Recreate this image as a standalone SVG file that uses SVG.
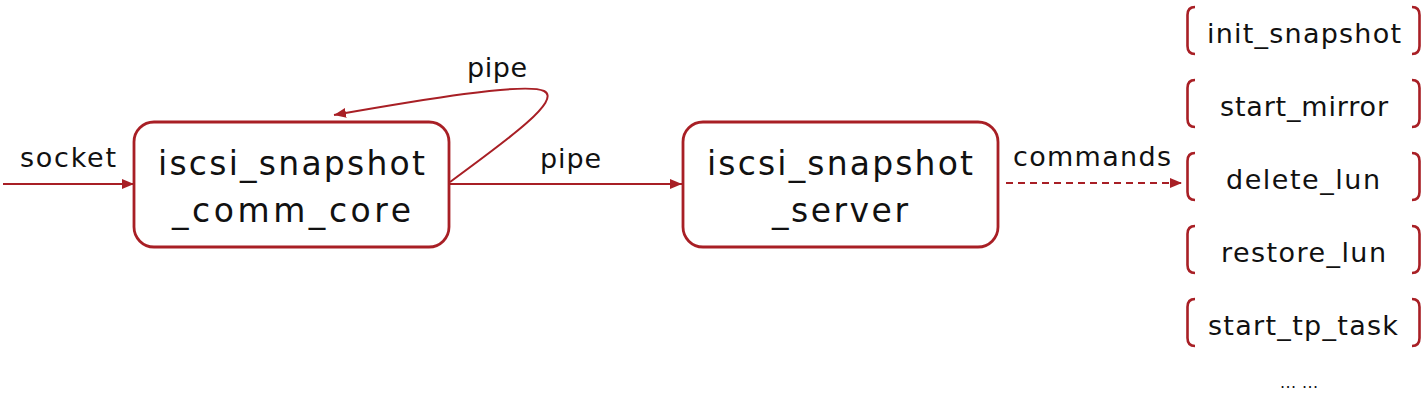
<svg xmlns="http://www.w3.org/2000/svg" width="1423" height="409" viewBox="0 0 1423 409">
<style>
.box{fill:#fff;stroke:#a81f25;stroke-width:2.8}
.br{fill:none;stroke:#a81f25;stroke-width:2.6}
.e{fill:none;stroke:#a81f25;stroke-width:2}
.t{font-family:"DejaVu Sans","Liberation Sans",sans-serif;fill:#111;text-anchor:middle}
.big{font-size:33px}
.lbl{font-size:27px}
</style>
<defs>
<marker id="a2" viewBox="0 0 12 10" refX="12" refY="5" markerWidth="12" markerHeight="10" markerUnits="userSpaceOnUse" orient="auto">
<path d="M0,0 L12,5 L0,10 z" fill="#a81f25"/>
</marker>
</defs>
<g id="connectors">
<line class="e" x1="3" y1="184" x2="134" y2="184" marker-end="url(#a2)"/>
<text class="t lbl" x="68" y="167" textLength="96">socket</text>
<line class="e" x1="449" y1="184" x2="682" y2="184" marker-end="url(#a2)"/>
<text class="t lbl" x="570.5" y="168" textLength="61">pipe</text>
<path class="e" d="M450,182 C510,138 562,100 544,91 C525,82 420,100 334,115" marker-end="url(#a2)"/>
<text class="t lbl" x="497" y="77" textLength="60">pipe</text>
<line class="e" x1="1006" y1="183" x2="1182" y2="183" stroke-dasharray="7,5" marker-end="url(#a2)"/>
<text class="t lbl" x="1092" y="166" textLength="158">commands</text>
</g>
<g id="comm_core">
<rect class="box" x="134" y="122" width="315" height="125" rx="20"/>
<text class="t big" x="291.5" y="175" textLength="267">iscsi_snapshot</text>
<text class="t big" x="291.5" y="222" textLength="239">_comm_core</text>
</g>
<g id="server">
<rect class="box" x="683" y="122" width="315" height="125" rx="20"/>
<text class="t big" x="840" y="175" textLength="266">iscsi_snapshot</text>
<text class="t big" x="840" y="222" textLength="136">_server</text>
</g>
<g id="init_snapshot">
<path class="br" d="M1195,7 Q1187.5,7 1187.5,15 L1187.5,46 Q1187.5,54 1195,54 M1412,7 Q1419.5,7 1419.5,15 L1419.5,46 Q1419.5,54 1412,54"/>
<text class="t lbl" x="1304" y="43" textLength="194">init_snapshot</text>
</g>
<g id="start_mirror">
<path class="br" d="M1195,80 Q1187.5,80 1187.5,88 L1187.5,119 Q1187.5,127 1195,127 M1412,80 Q1419.5,80 1419.5,88 L1419.5,119 Q1419.5,127 1412,127"/>
<text class="t lbl" x="1304" y="116" textLength="168">start_mirror</text>
</g>
<g id="delete_lun">
<path class="br" d="M1195,153 Q1187.5,153 1187.5,161 L1187.5,192 Q1187.5,200 1195,200 M1412,153 Q1419.5,153 1419.5,161 L1419.5,192 Q1419.5,200 1412,200"/>
<text class="t lbl" x="1303" y="189" textLength="154">delete_lun</text>
</g>
<g id="restore_lun">
<path class="br" d="M1195,226 Q1187.5,226 1187.5,234 L1187.5,265 Q1187.5,273 1195,273 M1412,226 Q1419.5,226 1419.5,234 L1419.5,265 Q1419.5,273 1412,273"/>
<text class="t lbl" x="1303.5" y="262" textLength="165">restore_lun</text>
</g>
<g id="start_tp_task">
<path class="br" d="M1195,299 Q1187.5,299 1187.5,307 L1187.5,338 Q1187.5,346 1195,346 M1412,299 Q1419.5,299 1419.5,307 L1419.5,338 Q1419.5,346 1412,346"/>
<text class="t lbl" x="1303" y="335" textLength="190">start_tp_task</text>
</g>
<g id="more">
<text class="t" style="font-size:16px" x="1299" y="388" textLength="38">... ...</text>
</g>
</svg>
